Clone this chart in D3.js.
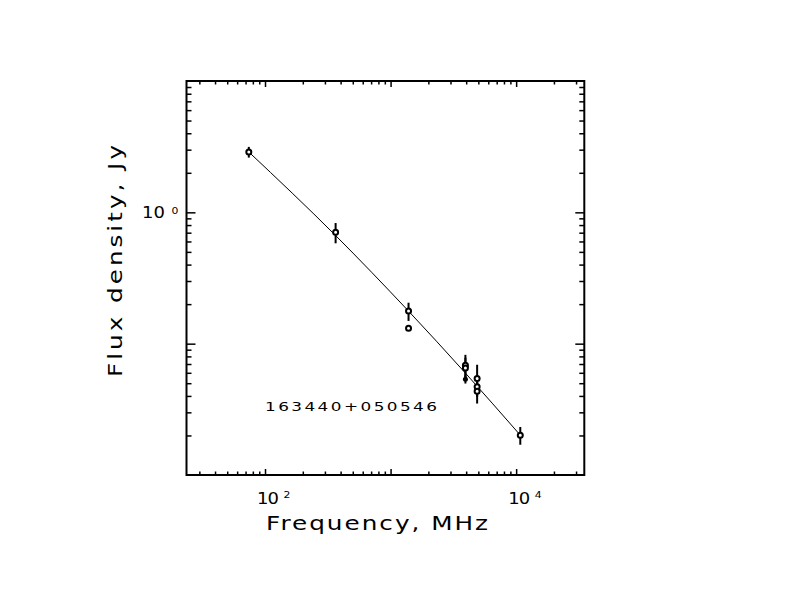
<!DOCTYPE html>
<html>
<head>
<meta charset="utf-8">
<script src="https://d3js.org/d3.v7.min.js"></script>
<style>
  body { margin: 0; background: #fff; }
  svg text { font-family: "DejaVu Sans", "Liberation Sans", sans-serif; fill: #000; }
</style>
</head>
<body>
<svg id="chart" width="792" height="612"></svg>
<script>
// ---- data ----
const sourceName = '163440+050546';
// measured points with error bars (MHz, Jy)
const freq    = [74.3, 365, 1390, 3945, 3945, 4890, 4890, 4890, 10790];
const flux    = [2.88, 0.705, 0.177, 0.0684, 0.0652, 0.0542, 0.0470, 0.0434, 0.0201];
const fluxErr = [0.27, 0.124, 0.028, 0.0138, 0.0130, 0.0149, 0.0066, 0.0084, 0.0031];
// extra points: open circle without error bar, and a small filled dot
const openFreq = [1390];
const openFlux = [0.131];
const dotFreq = [3945];
const dotFlux = [0.0535];
const dotErr  = [0.0038];
// fitted spectrum, points
const fitFreq = [74.3, 365, 1390, 3945, 10790];
const fitFlux = [2.88, 0.666, 0.177, 0.0597, 0.0201];
// axis ticks
const xMajor = [1e2, 1e3, 1e4];
const xLabels = [[1e2, '2'], [1e4, '4']];
const yMajor = [1e-1, 1e0];
const yLabels = [[1e0, '0']];
const xDomain = [23.7, 34900];
const yDomain = [0.01, 10];

// ---- layout ----
const L = 186.5, R = 584.3, T = 81, B = 475;
const svg = d3.select('#chart');

const x = d3.scaleLog().domain(xDomain).range([L, R]);
const y = d3.scaleLog().domain(yDomain).range([B, T]);

function minors(dom) {
  const out = [];
  for (let e = -3; e <= 5; e++) {
    for (let k = 2; k <= 9; k++) {
      const v = k * Math.pow(10, e);
      if (v > dom[0] && v < dom[1]) out.push(v);
    }
  }
  return out;
}
const xMinor = minors(xDomain);
const yMinor = minors(yDomain);

function drawAxis(axisFn, scale, transform, vals, size) {
  const g = svg.append('g')
    .attr('transform', transform)
    .call(axisFn(scale).tickValues(vals).tickSize(-size).tickFormat(''));
  g.select('.domain').remove();
  g.selectAll('line').attr('stroke', '#000').attr('stroke-width', 1.5);
  return g;
}

// bottom / top
drawAxis(d3.axisBottom, x, `translate(0,${B})`, xMinor, 3.5);
drawAxis(d3.axisBottom, x, `translate(0,${B})`, xMajor, 6);
drawAxis(d3.axisTop, x, `translate(0,${T})`, xMinor, 3.5);
drawAxis(d3.axisTop, x, `translate(0,${T})`, xMajor, 6);
// left / right
drawAxis(d3.axisLeft, y, `translate(${L},0)`, yMinor, 5);
drawAxis(d3.axisLeft, y, `translate(${L},0)`, yMajor, 9);
drawAxis(d3.axisRight, y, `translate(${R},0)`, yMinor, 5);
drawAxis(d3.axisRight, y, `translate(${R},0)`, yMajor, 9);

// frame
svg.append('rect')
  .attr('x', L).attr('y', T)
  .attr('width', R - L).attr('height', B - T)
  .attr('fill', 'none').attr('stroke', '#000').attr('stroke-width', 2);

// wide, plotter-like text: stretched horizontally then spaced to a width
function wideText(tx, ty, rot, size, width, sx, str) {
  return svg.append('g')
    .attr('transform', `translate(${tx},${ty}) rotate(${rot}) scale(${sx},1)`)
    .append('text')
    .attr('font-size', size)
    .attr('textLength', width / sx).attr('lengthAdjust', 'spacing')
    .text(str);
}

// tick labels  10^n
xLabels.forEach(([v, e]) => {
  wideText(x(v) - 8, 503.5, 0, 15, 22, 1.2, '10');
  wideText(x(v) + 18.5, 498, 0, 9, 6, 1.2, e);
});
yLabels.forEach(([v, e]) => {
  wideText(142, y(v) + 6, 0, 15, 23, 1.2, '10');
  wideText(171.5, y(v) + 1.5, 0, 9, 6, 1.2, e);
});

// axis titles
wideText(266, 530, 0, 19, 222, 1.3, 'Frequency, MHz');
wideText(122, 377, -90, 19, 232, 1.3, 'Flux density, Jy');

// source name
wideText(265, 411, 0, 12.5, 172, 1.35, sourceName);

// fitted curve
const line = d3.line()
  .x(d => x(d[0]))
  .y(d => y(d[1]))
  .curve(d3.curveMonotoneX);
svg.append('path')
  .datum(d3.zip(fitFreq, fitFlux))
  .attr('d', line)
  .attr('fill', 'none').attr('stroke', '#000').attr('stroke-width', 1);

// error bars
const pts = d3.zip(freq, flux, fluxErr);
svg.append('g').selectAll('line')
  .data(pts.concat(d3.zip(dotFreq, dotFlux, dotErr)))
  .join('line')
  .attr('x1', d => x(d[0])).attr('x2', d => x(d[0]))
  .attr('y1', d => y(d[1] + d[2])).attr('y2', d => y(d[1] - d[2]))
  .attr('stroke', '#000').attr('stroke-width', 2);

// open circles
svg.append('g').selectAll('circle')
  .data(pts.concat(d3.zip(openFreq, openFlux)))
  .join('circle')
  .attr('cx', d => x(d[0])).attr('cy', d => y(d[1]))
  .attr('r', 2.5)
  .attr('fill', '#fff').attr('stroke', '#000').attr('stroke-width', 2);

// filled dot
svg.append('g').selectAll('circle')
  .data(d3.zip(dotFreq, dotFlux))
  .join('circle')
  .attr('cx', d => x(d[0])).attr('cy', d => y(d[1]))
  .attr('r', 2.5)
  .attr('fill', '#000');
</script>
</body>
</html>
